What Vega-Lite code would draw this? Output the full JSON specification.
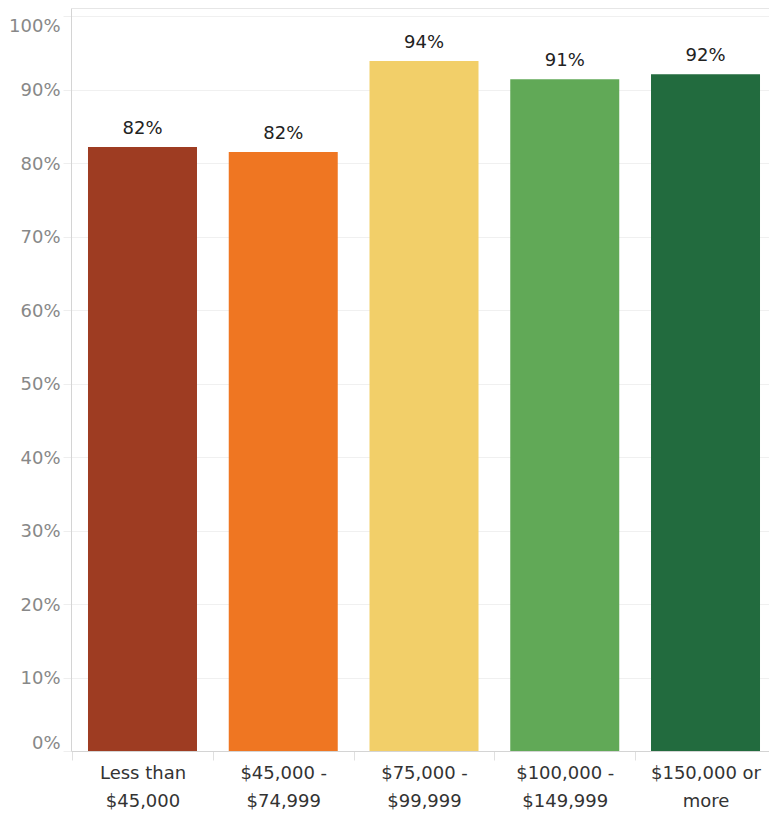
{
  "$schema": "https://vega.github.io/schema/vega-lite/v6.json",
  "width": 698,
  "height": 743,
  "autosize": {"type": "none"},
  "padding": {"left": 71, "top": 8, "right": 0, "bottom": 62},
  "background": "white",
  "config": {"view": {"stroke": null}, "font": "DejaVu Sans"},
  "data": {
    "values": [
      {"income": "Less than $45,000", "pct": 0.822},
      {"income": "$45,000 - $74,999", "pct": 0.815},
      {"income": "$75,000 - $99,999", "pct": 0.939},
      {"income": "$100,000 - $149,999", "pct": 0.914},
      {"income": "$150,000 or more", "pct": 0.921}
    ]
  },
  "layer": [
    {
      "mark": {"type": "bar"},
      "encoding": {
        "x": {
          "field": "income", "type": "nominal", "sort": null,
          "scale": {"paddingInner": 0.2256, "paddingOuter": 0.0923, "align": 0.654},
          "axis": {
            "title": null, "labelAngle": 0, "grid": false,
            "domainColor": "#d4d4d4", "ticks": true, "tickOffset": -70.4, "labelOffset": 70.4,
            "tickColor": "#e0e0e0", "tickSize": 9,
            "labelFontSize": 18, "labelColor": "#333333", "labelFontWeight": 500,
            "labelLineHeight": 28, "labelPadding": 4,
            "labelExpr": "[slice(datum.label, 0, lastindexof(datum.label, ' ')), slice(datum.label, lastindexof(datum.label, ' ') + 1)]"
          }
        },
        "y": {
          "field": "pct", "type": "quantitative",
          "scale": {"domain": [0, 1.011], "nice": false},
          "axis": {
            "title": null, "values": [0, 0.1, 0.2, 0.3, 0.4, 0.5, 0.6, 0.7, 0.8, 0.9, 1.0],
            "format": ".0%", "labelFontSize": 18, "labelColor": "#888888",
            "labelBaseline": {"condition": [{"test": "datum.value >= 0.999", "value": "top"}, {"test": "datum.value <= 0.001", "value": "bottom"}], "value": "middle"},
            "labelOffset": 1,
            "domainColor": "#d4d4d4", "tickColor": "#eeeeee", "tickSize": 8,
            "labelPadding": 3, "gridColor": "#f0f0f0"
          }
        },
        "color": {
          "field": "income", "type": "nominal", "sort": null, "legend": null,
          "scale": {
            "domain": ["Less than $45,000", "$45,000 - $74,999", "$75,000 - $99,999", "$100,000 - $149,999", "$150,000 or more"],
            "range": ["#9e3c22", "#ef7622", "#f2cf69", "#61a957", "#226b3e"]
          }
        }
      }
    },
    {
      "mark": {"type": "text", "baseline": "bottom", "dy": -9, "fontSize": 18, "color": "#222222"},
      "encoding": {
        "x": {
          "field": "income", "type": "nominal", "sort": null,
          "axis": {"orient": "top", "title": null, "labels": false, "ticks": false, "grid": false, "domainColor": "#e6e6e6"}
        },
        "y": {"field": "pct", "type": "quantitative"},
        "text": {"field": "pct", "format": ".0%"}
      }
    }
  ],
  "resolve": {"axis": {"x": "independent"}}
}
